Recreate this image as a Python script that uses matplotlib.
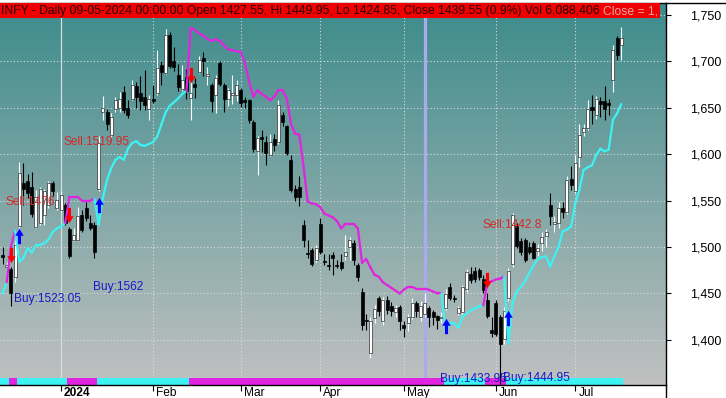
import numpy as np
import matplotlib
matplotlib.use("Agg")
import matplotlib.pyplot as plt
from matplotlib.collections import LineCollection
from matplotlib.patches import Rectangle
from matplotlib.path import Path
from matplotlib.lines import Line2D

plt.rcParams['font.family'] = ['Liberation Sans', 'DejaVu Sans']

# -----------------------------
# PRICE BARS (one per trading day)
# -----------------------------
opens = [1491, 1478, 1476, 1468, 1523.05, 1569, 1571, 1565, 1522, 1526,
         1535, 1545, 1569, 1542, 1540, 1545, 1519.95, 1508, 1508, 1534,
         1542, 1526, 1524, 1562, 1646, 1646, 1621, 1649, 1650, 1667,
         1650, 1660, 1673, 1666, 1662, 1649, 1660, 1666, 1696, 1688,
         1728, 1700, 1685, 1670, 1683, 1661, 1676, 1689, 1704, 1684,
         1675, 1664, 1698, 1675, 1660, 1664, 1664, 1669, 1658, 1658,
         1635, 1604, 1619, 1613, 1599, 1616, 1613, 1642, 1630, 1594,
         1563, 1565, 1524, 1494, 1497, 1486, 1525, 1485, 1481, 1491,
         1481, 1484, 1490, 1500, 1504, 1481, 1452, 1421, 1386, 1423,
         1445, 1420, 1443, 1436, 1430, 1435, 1416, 1418, 1425, 1440,
         1425, 1427.55, 1434, 1430, 1426, 1423, 1433.95, 1457, 1445, 1429,
         1430, 1455, 1471, 1474, 1475, 1466, 1442.8, 1411, 1440, 1425,
         1401, 1444.95, 1482, 1523, 1506, 1508, 1500, 1504, 1496, 1504,
         1512, 1545, 1525, 1526, 1542, 1538, 1573, 1560, 1597, 1624,
         1628, 1651, 1642, 1657, 1657, 1655, 1680, 1725, 1718]
highs = [1500, 1484, 1479, 1508, 1592, 1590, 1579, 1581, 1561, 1565,
         1563, 1571, 1571, 1559, 1560, 1547, 1522, 1521, 1543, 1540,
         1549, 1534, 1527, 1620, 1663, 1649, 1644, 1662, 1667, 1673,
         1658, 1680, 1678, 1684, 1691, 1664, 1675, 1712, 1700, 1735,
         1732, 1716, 1697, 1696, 1692, 1678, 1682, 1706, 1710, 1694,
         1677, 1685, 1700, 1677, 1671, 1685, 1680, 1671, 1662, 1660,
         1637, 1620, 1626, 1620, 1622, 1622, 1658, 1646, 1632, 1599,
         1567, 1576, 1529, 1508, 1499, 1502, 1531, 1493, 1493, 1495,
         1486, 1493, 1513, 1511, 1508, 1483, 1456, 1428, 1425, 1437,
         1447, 1446, 1447, 1441, 1437, 1437, 1420, 1428, 1445, 1442,
         1442, 1449.95, 1436, 1432, 1427, 1430, 1455, 1461, 1448, 1436,
         1459, 1476, 1479, 1478, 1477, 1470, 1450, 1425, 1443, 1427,
         1435, 1477, 1537, 1526, 1510, 1510, 1505, 1506, 1503, 1516,
         1519, 1558, 1533, 1549, 1549, 1577, 1587, 1599, 1633, 1633,
         1658, 1664, 1663, 1662, 1673, 1659, 1718, 1727, 1737]
lows = [1482, 1470, 1436, 1462, 1520, 1545, 1553, 1532, 1520, 1524,
        1524, 1542, 1555, 1540, 1538, 1524, 1488, 1506, 1506, 1516,
        1528, 1518, 1488, 1560, 1637, 1626, 1619, 1645, 1646, 1644,
        1639, 1658, 1650, 1648, 1648, 1637, 1655, 1664, 1675, 1686,
        1693, 1690, 1668, 1668, 1660, 1637, 1661, 1687, 1684, 1675,
        1646, 1644, 1674, 1646, 1652, 1654, 1657, 1651, 1650, 1634,
        1602, 1578, 1602, 1588, 1598, 1604, 1611, 1630, 1599, 1559,
        1550, 1544, 1500, 1488, 1480, 1484, 1493, 1481, 1475, 1470,
        1477, 1475, 1486, 1486, 1481, 1463, 1411, 1411, 1380, 1418,
        1426, 1416, 1428, 1426, 1425, 1411, 1403, 1410, 1422, 1425,
        1420, 1424.85, 1414, 1416, 1412, 1418, 1432, 1443, 1441, 1427,
        1428, 1452, 1461, 1462, 1464, 1450, 1423, 1403, 1404, 1352,
        1396, 1442, 1478, 1499, 1491, 1484, 1493, 1487, 1490, 1496,
        1500, 1524, 1516, 1520, 1531, 1536, 1561, 1558, 1586, 1620,
        1626, 1633, 1638, 1640, 1637, 1642, 1667, 1702, 1702]
closes = [1489, 1481, 1450, 1502, 1580, 1563, 1558, 1536, 1554, 1563,
          1560, 1569, 1560, 1551, 1556, 1526, 1490, 1513, 1533, 1518,
          1531, 1520, 1495, 1612, 1650, 1633, 1640, 1658, 1659, 1648,
          1642, 1675, 1662, 1657, 1653, 1660, 1657, 1693, 1689, 1728,
          1695, 1694, 1672, 1680, 1668, 1666, 1672, 1702, 1700, 1686,
          1657, 1682, 1676, 1660, 1669, 1666, 1675, 1655, 1656, 1637,
          1606, 1617, 1616, 1601, 1613, 1610, 1653, 1635, 1601, 1561,
          1554, 1554, 1508, 1493, 1482, 1499, 1495, 1484, 1480, 1488,
          1480, 1477, 1495, 1508, 1486, 1468, 1416, 1420, 1420, 1433,
          1431, 1443, 1432, 1431, 1434, 1420, 1413, 1425, 1440, 1431,
          1436, 1439.55, 1425, 1425, 1421, 1425, 1449, 1445, 1444, 1434,
          1457, 1473, 1464, 1465, 1468, 1454, 1426, 1407, 1406, 1396,
          1431, 1474, 1534, 1501, 1495, 1486, 1495, 1488, 1499, 1511,
          1516, 1533, 1527, 1542, 1538, 1572, 1567, 1590, 1621, 1628,
          1649, 1648, 1660, 1654, 1649, 1653, 1712, 1707, 1725]

# trailing stop line and its direction (1 = up/cyan, -1 = down/magenta)
stop_line = [1450, 1462, 1500, 1518, 1484, 1488, 1499, 1494, 1502, 1502,
             1504, 1508, 1516, 1520, 1522, 1526, 1554, 1554, 1554, 1550,
             1550, 1550, 1552, 1524, 1553, 1572, 1585, 1594, 1597, 1594,
             1606, 1612, 1614, 1610, 1609, 1611, 1613, 1619, 1632, 1645,
             1652, 1656, 1660, 1665, 1668, 1736, 1734, 1730, 1728, 1724,
             1722, 1724, 1722, 1717, 1713, 1712, 1711, 1710, 1698, 1678,
             1662, 1669, 1665, 1662, 1658, 1662, 1669, 1669, 1660, 1633,
             1622, 1621, 1587, 1549, 1547, 1546, 1543, 1536, 1534, 1532,
             1528, 1520, 1525, 1525, 1525, 1520, 1483, 1487, 1478, 1470,
             1468, 1462, 1459, 1456, 1453, 1450, 1454, 1457, 1457, 1455,
             1455, 1455, 1454, 1452, 1450, 1450, 1409, 1418, 1418, 1413,
             1425, 1428, 1432, 1434, 1436, 1437, 1462, 1463, 1465, 1466,
             1468, 1396, 1440, 1452, 1457, 1463, 1472, 1480, 1487, 1489,
             1490, 1479, 1490, 1500, 1517, 1519, 1522, 1547, 1562, 1583,
             1586, 1588, 1599, 1606, 1603, 1605, 1637, 1644, 1654]
trend_runs = [(1, 2), (-1, 2), (1, 12), (-1, 7), (1, 22), (-1, 61), (1, 10), (-1, 5), (1, 28)]

# signals
buy_bars = [4, 23, 106, 121]
buy_prices = [1523.05, 1562, 1433.95, 1444.95]
buy_arrow_tip = [1520, 1553, 1423, 1432]
buy_label_y = [1444, 1457, 1358, 1359]
sell_bars = [2, 16, 45, 116]
sell_prices = [1476, 1519.95, 1661, 1442.8]
sell_arrow_tip = [1483, 1526, 1677, 1456]
sell_label_y = [1549, 1613, None, 1524]

month_pos = [14, 36, 57, 76, 96, 118, 137]
month_labels = ["2024", "Feb", "Mar", "Apr", "May", "Jun", "Jul"]
price_ticks = [1400, 1450, 1500, 1550, 1600, 1650, 1700, 1750]
price_labels = ["1,400", "1,450", "1,500", "1,550", "1,600", "1,650", "1,700", "1,750"]
selected_bar = 101

title_main = ("INFY - Daily 09-05-2024 00:00:00 Open 1427.55, Hi 1449.95, Lo 1424.85, "
              "Close 1439.55 (0.9%) Vol 6,088,406 ")
title_tail = "Close = 1,"

# -----------------------------
# FIGURE
# -----------------------------
W, H = 726, 398
fig = plt.figure(figsize=(W / 100, H / 100), dpi=100)
fig.patch.set_facecolor("white")
ax = fig.add_axes([0, 13 / H, 666 / W, 382.5 / H])

x_lo, x_hi = -0.6, 158.7
y_lo, y_hi = 1351.3, 1763.5

# gradient background
g = np.linspace(0, 1, 256)[:, None, None]
top_c = np.array([0.235, 0.545, 0.545])
bot_c = np.array([0.755, 0.755, 0.755])
ax.imshow(top_c + (bot_c - top_c) * g, extent=[x_lo, x_hi, y_lo, y_hi],
          aspect="auto", origin="upper", zorder=0, interpolation="bilinear")

# grid
ax.hlines(price_ticks, x_lo, x_hi, colors="#dcdcdc", linestyles=(0, (1, 2)), lw=0.8, zorder=1)
for pos, lab in zip(month_pos, month_labels):
    if lab == "2024":
        ax.axvline(pos, color="#d4dede", lw=0.9, zorder=1)
    else:
        ax.axvline(pos, color="#dcdcdc", ls=(0, (1, 2)), lw=0.8, zorder=1)

# selected bar marker
ax.axvline(selected_bar, color="#aaaaee", lw=2.3, zorder=1.5)

# trend direction per bar
trend_dir = []
for d, n in trend_runs:
    trend_dir += [d] * n
trend_dir = np.array(trend_dir)
up_col, dn_col = "#3cf2f2", "#e024e0"

# bottom state strip
for i, d in enumerate(trend_dir):
    ax.add_patch(Rectangle((i - 0.5, 0), 1, 0.0185, transform=ax.get_xaxis_transform(),
                           facecolor=up_col if d > 0 else dn_col, edgecolor="none", zorder=2))

# candles
n = len(closes)
idx = np.arange(n)
o = np.array(opens); h = np.array(highs); l = np.array(lows); c = np.array(closes)
up = c >= o
ax.vlines(idx[up], l[up], h[up], colors="white", lw=0.8, zorder=3)
ax.vlines(idx[~up], l[~up], h[~up], colors="black", lw=0.8, zorder=3)
body_lo = np.minimum(o, c)
body_h = np.maximum(np.abs(c - o), 1.0)
ax.bar(idx[up], body_h[up], bottom=body_lo[up], width=0.72, color="white",
       edgecolor="#303030", lw=0.5, zorder=4)
ax.bar(idx[~up], body_h[~up], bottom=body_lo[~up], width=0.72, color="black",
       edgecolor="black", lw=0.5, zorder=4)

# stop line, each segment coloured by the direction of the bar it ends on
sl = np.array(stop_line)
segs = [[(i - 1, sl[i - 1]), (i, sl[i])] for i in range(1, n)]
cols = [up_col if trend_dir[i] > 0 else dn_col for i in range(1, n)]
ax.add_collection(LineCollection(segs, colors=cols, linewidths=1.6, zorder=5,
                                 capstyle="round", joinstyle="round"))

# arrows
arrow_up = Path([(0, 1), (0.55, 0.1), (0.2, 0.1), (0.2, -1), (-0.2, -1), (-0.2, 0.1),
                 (-0.55, 0.1), (0, 1)], closed=True)
arrow_dn = Path([(x, -y) for x, y in arrow_up.vertices], closed=True)
for b, tip in zip(buy_bars, buy_arrow_tip):
    ax.plot(b, tip - 8, marker=arrow_up, ms=11, color="#0000ff", mew=0, zorder=6)
for b, tip in zip(sell_bars, sell_arrow_tip):
    ax.plot(b, tip + 8, marker=arrow_dn, ms=11, color="#ff0000", mew=0, zorder=6)

# trade labels
for b, p, y in zip(buy_bars, buy_prices, buy_label_y):
    ax.text(b - 1.3, y, f"Buy:{p:g}", color="#1818c8", fontsize=8.6,
            ha="left", va="center", zorder=7)
for b, p, y in zip(sell_bars, sell_prices, sell_label_y):
    if y is None:
        continue
    ax.text(b - 1.3, y, f"Sell:{p:g}", color="#d42828", fontsize=8.6,
            ha="left", va="center", zorder=7)

ax.set_xlim(x_lo, x_hi)
ax.set_ylim(y_lo, y_hi)

# axes styling
ax.spines["left"].set_visible(False)
for side in ["top", "right", "bottom"]:
    ax.spines[side].set_color("black")
    ax.spines[side].set_linewidth(1.0)
ax.yaxis.tick_right()
ax.set_yticks(price_ticks)
ax.set_yticklabels(price_labels)
ax.tick_params(axis="y", length=3.5, width=0.8, pad=14, labelsize=9, colors="black")
ax.set_xticks(month_pos)
ax.set_xticklabels([])
ax.tick_params(axis="x", length=4.5, width=0.8, direction="out")
for pos, lab in zip(month_pos, month_labels):
    ax.annotate(lab, xy=(pos, 0), xycoords=("data", "axes fraction"),
                xytext=(2.2, -1.2), textcoords="offset points", ha="left", va="top",
                fontsize=8.6, fontweight="bold" if lab == "2024" else "normal",
                annotation_clip=False)

# extra frame lines outside the axes
fig.add_artist(Line2D([666 / W, 1], [1 - 2.5 / H, 1 - 2.5 / H], color="black", lw=1.0,
                      transform=fig.transFigure))
fig.add_artist(Line2D([666 / W, 666 / W], [0, 13 / H], color="black", lw=1.0,
                      transform=fig.transFigure))

# title bar
bar_rect = Rectangle((0, 1 - 18 / H), 660 / W, 14.5 / H, transform=fig.transFigure,
                     facecolor="#f00000", edgecolor="none", zorder=10)
fig.add_artist(bar_rect)
t1 = fig.text(1 / W, 1 - 11 / H, title_main, fontsize=9.0, color="#2a0000",
              va="center", ha="left", zorder=11)
# fit the header text to the width it has in the original (ends near x=603 px)
fig.canvas.draw()
bb = t1.get_window_extent()
t1.set_fontsize(9.0 * (603 - 1) / bb.width)
fig.canvas.draw()
bb = t1.get_window_extent()
t2 = fig.text(bb.x1 / W, 1 - 11 / H, title_tail, fontsize=t1.get_fontsize(), color="#eaa6a6",
              va="center", ha="left", zorder=11)

fig.savefig("out.png", dpi=100)
